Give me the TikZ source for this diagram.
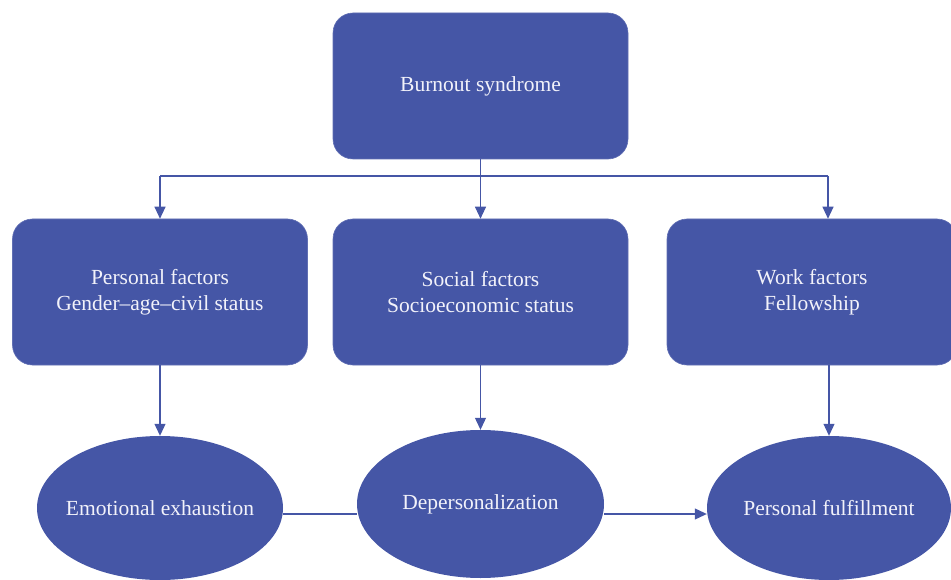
\documentclass[tikz,border=0pt]{standalone}
\usepackage{fontspec}
\setmainfont{Liberation Serif}
\usetikzlibrary{shapes.geometric,arrows.meta}
\definecolor{boxblue}{RGB}{69,86,166}
\definecolor{txtcol}{RGB}{242,242,250}
\newcommand{\ztxt}[1]{\makebox[0pt]{#1}}
\tikzset{
  rbox/.style={draw=boxblue!85!white, line width=0.6pt, fill=boxblue, rounded corners=20pt, minimum height=146pt, inner sep=0pt, align=center, text=txtcol, font=\fontsize{21.5}{26}\selectfont},
  ebox/.style={ellipse, fill=boxblue, draw=none, minimum width=246pt, minimum height=144pt, inner sep=0pt, text=txtcol, font=\fontsize{21.5}{26}\selectfont},
  conn/.style={draw=boxblue, line width=1.1pt},
  arr/.style={conn, -{Triangle[width=11pt,length=12pt]}}
}
\begin{document}
\begin{tikzpicture}[x=1pt,y=-1pt]
\useasboundingbox (0,0) rectangle (951,580);
\clip (0,0) rectangle (951,580);
\node[rbox, minimum width=295pt] (top) at (480.5,86) {Burnout syndrome};
\node[rbox, minimum width=295pt] (pf) at (160,292) {Personal factors\\Gender–age–civil status};
\node[rbox, minimum width=295pt] (sf) at (480.5,292) {\rule{0pt}{8pt}Social factors\\Socioeconomic status};
\node[rbox, minimum width=290pt] (wf) at (812,292) {Work factors\\Fellowship};
\node[ebox] (ee) at (160,508) {\ztxt{Emotional exhaustion}};
\node[ebox, minimum width=247pt, minimum height=148pt] (dp) at (480.5,504) {\ztxt{Depersonalization}};
\node[ebox, minimum width=244pt] (ps) at (829,508) {\ztxt{Personal fulfillment}};
\coordinate (hl) at (160,176);
\coordinate (hr) at (828,176);
\coordinate (hm) at (480.5,176);
\draw[conn] (top.south) -- (hm);
\draw[conn] (hl) -- (hr);
\draw[arr] (hl) -- (hl |- pf.north);
\draw[arr] (hm) -- (sf.north);
\draw[arr] (hr) -- (hr |- wf.north);
\draw[arr] (pf.south) -- (ee.north);
\draw[arr] (sf.south) -- (dp.north);
\draw[arr] (wf.south -| ps.north) -- (ps.north);
\draw[conn] (ee.east |- 0,514) -- (dp.west |- 0,514);
\draw[arr] (dp.east |- 0,514) -- (ps.west |- 0,514);
\end{tikzpicture}
\end{document}
